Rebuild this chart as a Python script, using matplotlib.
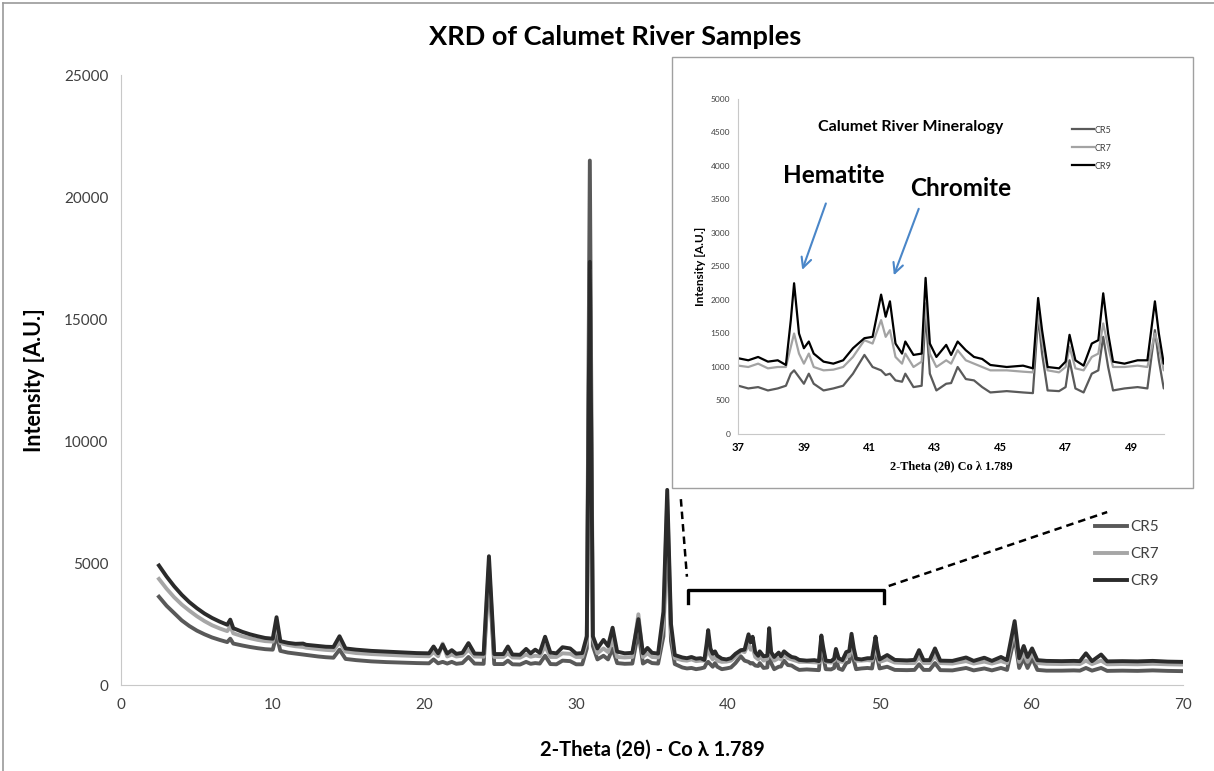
import matplotlib
matplotlib.use('Agg')
import matplotlib.pyplot as plt
from matplotlib.patches import Rectangle
from matplotlib.lines import Line2D

plt.rcParams['font.family'] = ['Lato', 'DejaVu Sans']

# 2-theta positions shared by the three samples
two_theta = [2.5, 3.0, 3.5, 4.0, 4.5, 5.0, 5.5, 6.0, 6.5, 7.0, 7.2, 7.4, 8.0, 8.5, 9.0, 9.5, 10.0,
             10.25, 10.5, 11.0, 11.5, 12.0, 12.2, 13.0, 13.5, 14.0, 14.4, 14.8, 15.5, 16.5, 17.5,
             18.5, 19.5, 20.3, 20.6, 20.9, 21.2, 21.5, 21.8, 22.1, 22.5, 22.9, 23.3, 23.9, 24.25,
             24.6, 25.2, 25.5, 25.8, 26.3, 26.7, 27.0, 27.3, 27.6, 27.95, 28.3, 28.7, 29.1, 29.6,
             30.0, 30.4, 30.7, 30.9, 31.1, 31.4, 31.8, 32.1, 32.4, 32.7, 33.2, 33.7, 34.1, 34.4,
             34.7, 35.0, 35.4, 35.75, 36.0, 36.25, 36.5, 37.0, 37.3, 37.6, 37.9, 38.2, 38.45, 38.6,
             38.7, 38.85, 39.0, 39.15, 39.3, 39.6, 39.9, 40.2, 40.5, 40.85, 41.1, 41.36, 41.5, 41.63,
             41.8, 42.0, 42.1, 42.35, 42.6, 42.72, 42.85, 43.05, 43.35, 43.5, 43.7, 43.95, 44.2,
             44.45, 44.7, 45.2, 45.7, 46.0, 46.16, 46.28, 46.45, 46.8, 47.0, 47.12, 47.3, 47.55,
             47.8, 48.0, 48.15, 48.3, 48.45, 48.8, 49.2, 49.5, 49.73, 49.85, 50.0, 50.5, 51.0, 51.8,
             52.3, 52.6, 52.9, 53.3, 53.65, 54.0, 54.8, 55.7, 56.2, 56.9, 57.4, 58.0, 58.4, 58.9,
             59.2, 59.5, 59.75, 60.05, 60.4, 61.0, 62.0, 62.8, 63.2, 63.6, 64.0, 64.6, 65.0, 66.0,
             67.0, 68.0, 69.0, 69.9]

cr5 = [3620, 3250, 2950, 2650, 2420, 2230, 2080, 1950, 1850, 1760, 1900, 1700, 1620, 1560, 1510, 1470, 1450,
       2050, 1400, 1330, 1290, 1250, 1230, 1170, 1140, 1120, 1450, 1070, 1020, 970, 940,
       920, 900, 890, 1050, 890, 950, 880, 950, 870, 900, 1150, 880, 870, 4600,
       860, 860, 1000, 850, 840, 950, 870, 900, 880, 1200, 860, 850, 1000, 980,
       850, 850, 1500, 21500, 1600, 1050, 1200, 1050, 1500, 900, 870, 880, 2200, 880,
       1000, 900, 880, 2000, 7000, 1800, 860, 720, 680, 700, 650, 680, 720, 900,
       950, 850, 750, 900, 750, 650, 680, 720, 900, 1180, 1000, 950, 880, 900,
       800, 780, 900, 700, 720, 1800, 900, 650, 750, 760, 1000, 820, 800,
       700, 620, 640, 620, 610, 1750, 1200, 650, 640, 700, 1100, 680, 620,
       900, 950, 1450, 1000, 650, 680, 700, 680, 1550, 1100, 680, 750, 620, 610,
       620, 850, 620, 620, 900, 610, 600, 700, 600, 680, 600, 700, 620, 2000,
       700, 1100, 700, 1100, 620, 590, 590, 600, 590, 700, 590, 700, 580, 590,
       580, 600, 580, 570]

cr7 = [4350, 3950, 3600, 3300, 3050, 2820, 2620, 2450, 2320, 2210, 2400, 2120, 2000, 1920, 1850, 1800, 1780,
       2500, 1720, 1640, 1590, 1560, 1530, 1470, 1440, 1420, 1750, 1370, 1310, 1270, 1240,
       1210, 1190, 1180, 1350, 1180, 1700, 1170, 1250, 1170, 1200, 1450, 1170, 1160, 4900,
       1150, 1150, 1300, 1130, 1120, 1250, 1160, 1200, 1180, 1600, 1150, 1150, 1300, 1280,
       1150, 1150, 1800, 17000, 1900, 1300, 1500, 1350, 1900, 1150, 1130, 1150, 2900, 1150,
       1300, 1150, 1130, 2500, 7600, 2200, 1100, 1020, 1000, 1050, 980, 1000, 1000, 1300,
       1500, 1200, 1050, 1200, 1000, 950, 960, 1000, 1150, 1400, 1350, 1700, 1450, 1550,
       1150, 1050, 1200, 1000, 1080, 1950, 1200, 1000, 1100, 1050, 1250, 1100, 1050,
       1000, 950, 950, 930, 920, 1800, 1400, 950, 920, 1000, 1300, 980, 950,
       1150, 1200, 1650, 1300, 1000, 1000, 1020, 1000, 1500, 1300, 950, 1050, 920, 900,
       900, 1150, 900, 900, 1200, 900, 880, 980, 880, 960, 880, 980, 900, 2300,
       950, 1300, 950, 1300, 900, 870, 860, 870, 860, 1000, 860, 1000, 850, 860,
       850, 870, 850, 840]

cr9 = [4900, 4450, 4050, 3700, 3400, 3150, 2930, 2750, 2600, 2470, 2680, 2330, 2180, 2080, 2000, 1930, 1900,
       2780, 1800, 1730, 1690, 1700, 1650, 1600, 1570, 1560, 2000, 1500, 1450, 1400, 1370,
       1340, 1310, 1300, 1580, 1300, 1650, 1290, 1430, 1280, 1320, 1720, 1290, 1280, 5280,
       1270, 1270, 1580, 1250, 1240, 1480, 1300, 1450, 1320, 1980, 1330, 1300, 1550, 1500,
       1290, 1310, 2000, 17350, 2000, 1500, 1850, 1600, 2350, 1370, 1300, 1320, 2700, 1300,
       1520, 1320, 1290, 3000, 8000, 2500, 1230, 1130, 1100, 1150, 1080, 1100, 1030, 1700,
       2250, 1500, 1280, 1380, 1200, 1080, 1050, 1100, 1280, 1430, 1450, 2080, 1750, 1980,
       1350, 1200, 1380, 1180, 1200, 2330, 1350, 1150, 1330, 1180, 1380, 1250, 1150,
       1120, 1030, 1000, 1020, 980, 2030, 1550, 1000, 980, 1080, 1480, 1100, 1020,
       1350, 1400, 2100, 1500, 1080, 1050, 1100, 1100, 1980, 1500, 1050, 1230, 1030, 1010,
       1030, 1430, 1020, 1020, 1500, 1000, 990, 1130, 990, 1120, 990, 1150, 1020, 2620,
       1100, 1600, 1150, 1500, 1020, 990, 980, 990, 980, 1300, 980, 1250, 970, 980,
       970, 990, 960, 950]

samples = ['CR5', 'CR7', 'CR9']
main_colors = ['#595959', '#a6a6a6', '#2b2b2b']
inset_colors = ['#5a5a5a', '#a3a3a3', '#000000']
series = [cr5, cr7, cr9]

fig = plt.figure(figsize=(12.14, 7.71), dpi=100)

# main chart
ax = fig.add_axes([0.0997, 0.1115, 0.8748, 0.791])
ax.set_zorder(0)
for y, c, lab in zip(series, main_colors, samples):
    ax.plot(two_theta, y, color=c, lw=2.8, label=lab, solid_joinstyle='round')
ax.set_xlim(0, 70)
ax.set_ylim(0, 25000)
ax.set_xticks(range(0, 71, 10))
ax.set_yticks(range(0, 25001, 5000))
for s in ['top', 'right']:
    ax.spines[s].set_visible(False)
for s in ['left', 'bottom']:
    ax.spines[s].set_color('#c8c8c8')
ax.tick_params(length=0, labelsize=11, labelcolor='#404040', pad=9)
ax.set_xlabel('2-Theta (2θ) - Co λ 1.789', fontsize=14.5, fontweight='bold', labelpad=20)
ax.set_ylabel('Intensity [A.U.]', fontsize=15.5, fontweight='bold', labelpad=14)
fig.text(0.507, 0.952, 'XRD of Calumet River Samples', ha='center', va='center',
         fontsize=19.5, fontweight='bold')

# zoom bracket and dashed leader lines
ax.plot([37.4, 37.4, 50.3, 50.3], [3370, 3900, 3900, 3370], color='black', lw=2.4)
ax.plot([36.9, 37.3], [7620, 4440], color='black', lw=1.8, ls=(0, (3, 2)))
ax.plot([50.6, 65.0], [4060, 7090], color='black', lw=1.8, ls=(0, (3, 2)))

ax.legend(loc='upper left', bbox_to_anchor=(0.902, 0.3256), bbox_transform=fig.transFigure,
          frameon=False, fontsize=11, handlelength=2.1, handletextpad=0.2,
          labelspacing=0.85, borderpad=0, borderaxespad=0, labelcolor='#404040')

# inset frame
frame = Rectangle((0.5535, 0.3671), 0.4292, 0.559, transform=fig.transFigure,
                  facecolor='white', edgecolor='#a0a0a0', lw=1.0, zorder=1)
fig.add_artist(frame)

# inset chart
ai = fig.add_axes([0.6083, 0.4371, 0.3503, 0.4345])
ai.set_zorder(2)
ai.patch.set_alpha(0)
for y, c, lab in zip(series, inset_colors, samples):
    ai.plot(two_theta, y, color=c, lw=1.6, label=lab)
ai.set_xlim(37, 50)
ai.set_ylim(0, 5000)
ai.set_xticks(range(37, 50, 2))
ai.set_yticks(range(0, 5001, 500))
for s in ['top', 'right']:
    ai.spines[s].set_visible(False)
for s in ['left', 'bottom']:
    ai.spines[s].set_color('#c8c8c8')
ai.tick_params(axis='y', length=0, labelsize=6, labelcolor='#404040', pad=6)
ai.tick_params(axis='x', length=0, labelsize=8, pad=6)
for t in ai.get_xticklabels():
    t.set_fontweight('bold')
ai.set_xlabel('2-Theta (2θ) Co λ 1.789', fontsize=8.8, fontweight='bold', labelpad=5,
              family=['Liberation Serif', 'DejaVu Serif'])
ai.set_ylabel('Intensity [A.U.]', fontsize=8.5, fontweight='bold', labelpad=3)
ai.text(42.25, 4580, 'Calumet River Mineralogy', ha='center', va='center',
        fontsize=11.5, fontweight='bold')
ai.text(39.9, 3860, 'Hematite', ha='center', va='center', fontsize=17.5, fontweight='bold')
ai.text(43.8, 3660, 'Chromite', ha='center', va='center', fontsize=17.5, fontweight='bold')
arrow_style = dict(arrowstyle='->', color='#4a86c8', lw=1.5, mutation_scale=18)
ai.annotate('', xy=(38.92, 2410), xytext=(39.7, 3480), arrowprops=arrow_style)
ai.annotate('', xy=(41.72, 2330), xytext=(42.54, 3400), arrowprops=arrow_style)
ai.legend(loc='upper left', bbox_to_anchor=(0.765, 0.945), frameon=False, fontsize=6.5,
          handlelength=2.4, handletextpad=0.15, labelspacing=1.0, labelcolor='#404040')

# outer border of the picture
fig.add_artist(Line2D([0.0025, 0.0025], [0, 0.996], transform=fig.transFigure,
                      color='#9a9a9a', lw=1.2))
fig.add_artist(Line2D([0.0025, 1], [0.996, 0.996], transform=fig.transFigure,
                      color='#9a9a9a', lw=1.2))

fig.savefig('out.png', dpi=100)
